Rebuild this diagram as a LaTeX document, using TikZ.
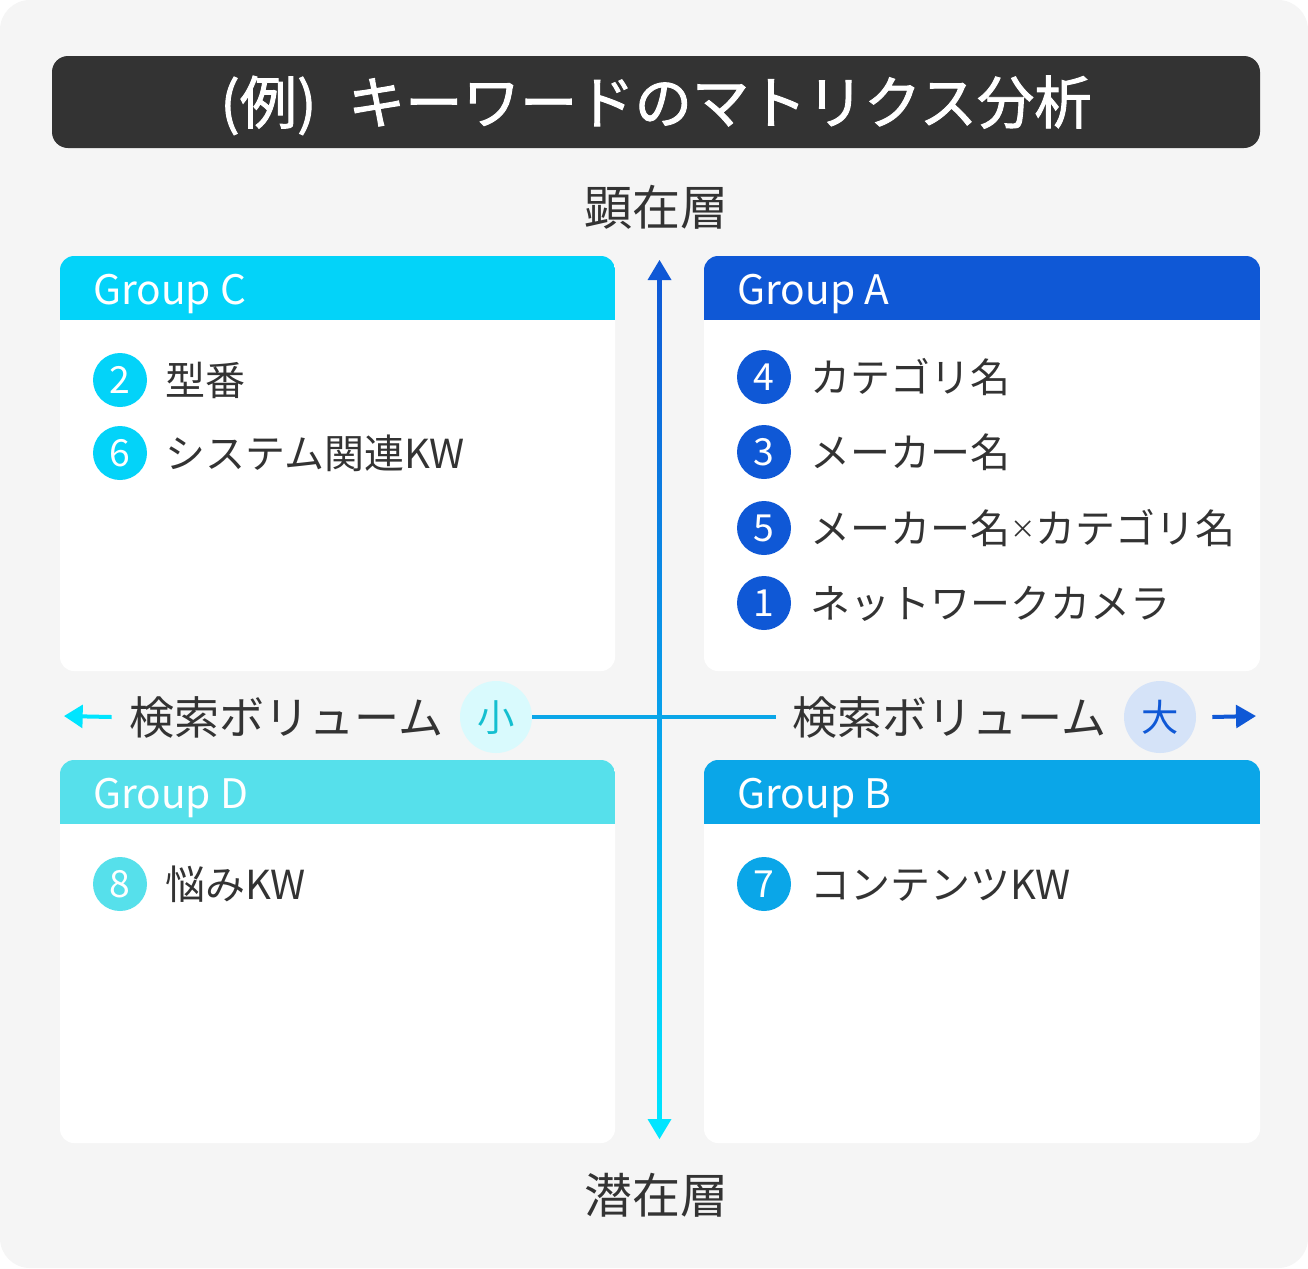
\documentclass[tikz,border=0pt]{standalone}
\usepackage{fontspec}
\setmainfont{Noto Sans CJK JP}
\newfontfamily\titlefont{Noto Sans CJK JP}[FakeBold=1.6]
\usetikzlibrary{arrows.meta}
\definecolor{bg}{HTML}{F5F5F5}
\definecolor{dark}{HTML}{333333}
\definecolor{ca}{HTML}{0F58D6}
\definecolor{cb}{HTML}{0AA6E8}
\definecolor{cc}{HTML}{03D3F9}
\definecolor{cd}{HTML}{56E0EB}
\definecolor{cyanarrow}{HTML}{00E5FF}
\definecolor{smallbg}{HTML}{D9FAFD}
\definecolor{smalltx}{HTML}{14BFD0}
\definecolor{bigbg}{HTML}{D5E3F8}
\newcommand\qbox[5]{%
  \fill[white, rounded corners=10.5pt] (#1,#2) rectangle (#3,#4);
  \begin{scope}
    \clip[rounded corners=10.5pt] (#1,#2) rectangle (#3,#4);
    \fill[#5] (#1,#2) rectangle (#3,#2+64);
  \end{scope}}
\newcommand\smalltimes{\raisebox{3.2pt}{\fontsize{19}{22}\selectfont ×}}
\tikzset{
  qtitle/.style={anchor=west, text=white, inner sep=0pt,
    font=\fontsize{30.5}{36}\selectfont, text height=22.2pt, text depth=0pt},
  num/.style={circle, minimum size=40.5pt, inner sep=0pt, text=white,
    font=\fontsize{28}{34}\selectfont, text height=20.4pt, text depth=0pt},
  item/.style={anchor=west, text=dark, inner sep=0pt,
    font=\fontsize{30}{36}\selectfont, text height=26.4pt, text depth=3.6pt},
  axislabel/.style={text=dark, inner sep=0pt,
    font=\fontsize{36}{42}\selectfont, text height=31.7pt, text depth=4.3pt},
  vollabel/.style={text=dark, inner sep=0pt,
    font=\fontsize{33.8}{40}\selectfont, text height=29.7pt, text depth=4.1pt},
  volcircle/.style={circle, minimum size=54pt, inner sep=0pt,
    font=\fontsize{28}{34}\selectfont, text height=24.6pt, text depth=3.4pt},
  axisline/.style={line width=3pt},
}
\begin{document}
\begin{tikzpicture}[x=0.75pt,y=-0.75pt]
\useasboundingbox (0,0) rectangle (1308,1268);
\fill[white] (0,0) rectangle (1308,1268);
\fill[bg, rounded corners=22.5pt] (0,0) rectangle (1308,1268);

% title bar
\fill[dark, rounded corners=12pt] (52,56) rectangle (1260,148);
\node[text=white, inner sep=0pt, font=\titlefont\fontsize{43}{50}\selectfont,
  text height=37.8pt, text depth=5.2pt] (title) at (656,102) {(例)\hspace{0.55em}キーワードのマトリクス分析};

% axis labels
\node[axislabel] (top) at (656,207) {顕在層};
\node[axislabel] (bottom) at (656,1195) {潜在層};

% quadrants
\qbox{60}{256}{615}{671}{cc}
\qbox{704}{256}{1260}{671}{ca}
\qbox{60}{760}{615}{1143}{cd}
\qbox{704}{760}{1260}{1143}{cb}

\node[qtitle] (gC) at (93,290) {Group C};
\node[qtitle] (gA) at (737,290) {Group A};
\node[qtitle] (gD) at (93,794) {Group D};
\node[qtitle] (gB) at (737,794) {Group B};

% Group C items
\node[num, fill=cc] (n2) at (120,380) {2};
\node[item] (t2) at (165,380) {型番};
\node[num, fill=cc] (n6) at (120,453) {6};
\node[item] (t6) at (165,453) {システム関連KW};

% Group A items
\node[num, fill=ca] (n4) at (764,377) {4};
\node[item] (t4) at (810,377) {カテゴリ名};
\node[num, fill=ca] (n3) at (764,452) {3};
\node[item] (t3) at (810,452) {メーカー名};
\node[num, fill=ca] (n5) at (764,528) {5};
\node[item] (t5) at (810,528) {メーカー名\smalltimes カテゴリ名};
\node[num, fill=ca] (n1) at (764,603) {1};
\node[item] (t1) at (810,603) {ネットワークカメラ};

% Group D items
\node[num, fill=cd] (n8) at (120,884) {8};
\node[item] (t8) at (165,884) {悩みKW};

% Group B items
\node[num, fill=cb] (n7) at (764,884) {7};
\node[item] (t7) at (810,884) {コンテンツKW};

% vertical axis (gradient)
\coordinate (vtop) at (659.5,260);
\coordinate (vbot) at (659.5,1139);
\shade[top color=ca, bottom color=cyanarrow] (657.5,276) rectangle (661.5,1124);
\fill[ca] (vtop) -- (671.5,280) -- (647.5,280) -- cycle;
\fill[cyanarrow] (vbot) -- (671.5,1119) -- (647.5,1119) -- cycle;

% horizontal axis
\node[vollabel, anchor=west] (volL) at (129,717) {検索ボリューム};
\node[volcircle, fill=smallbg, text=smalltx] (small) at (496,717) {小};
\node[vollabel, anchor=west] (volR) at (792,717) {検索ボリューム};
\node[volcircle, fill=bigbg, text=ca] (big) at (1160,717) {大};
\coordinate (ltip) at (64,716);
\coordinate (rtip) at (1256,716);

\draw[axisline, cb] (small.east) -- ([xshift=-12pt]volR.west);
\draw[axisline, cyanarrow, -{Triangle[length=14pt,width=17pt]}]
  ([xshift=-13pt]volL.west) -- (ltip);
\draw[axisline, ca, -{Triangle[length=15pt,width=17pt]}]
  ([xshift=12pt]big.east) -- (rtip);
\end{tikzpicture}
\end{document}
